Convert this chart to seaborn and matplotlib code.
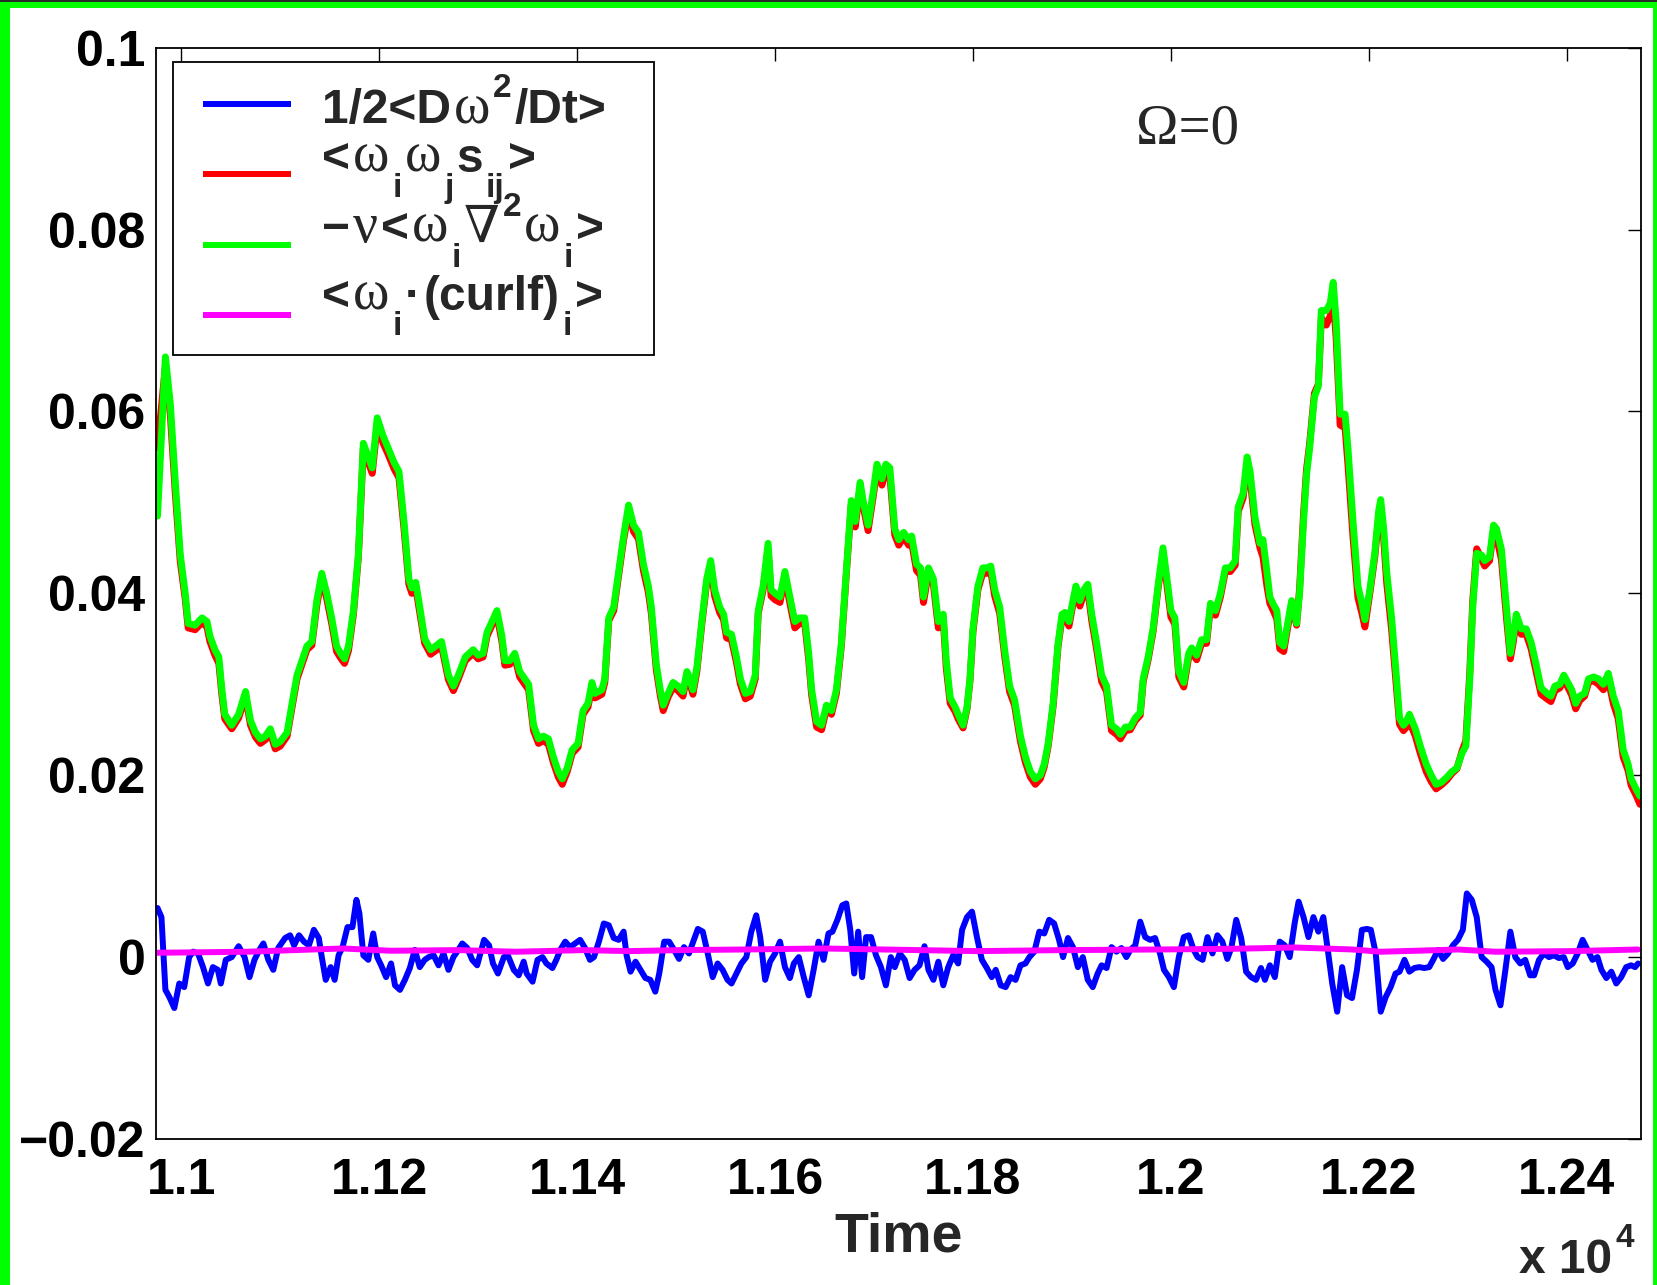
import matplotlib
matplotlib.use('Agg')
import matplotlib.pyplot as plt
import seaborn as sns
from matplotlib.patches import Rectangle
from matplotlib.lines import Line2D

# --- time axis for the production / dissipation curves ---
t_main = [
    10976, 10984, 10989, 10994, 10999, 11004, 11007, 11014, 11021, 11026,
    11029, 11034, 11038, 11041, 11044, 11051, 11058, 11065, 11070, 11075,
    11080, 11085, 11090, 11095, 11100, 11107, 11112, 11117, 11122, 11127,
    11132, 11137, 11142, 11147, 11152, 11157, 11161, 11165, 11169, 11174,
    11179, 11184, 11188, 11193, 11198, 11204, 11209, 11215, 11220, 11225,
    11230, 11233, 11237, 11241, 11246, 11252, 11257, 11263, 11270, 11275,
    11280, 11287, 11295, 11300, 11305, 11309, 11314, 11319, 11324, 11327,
    11332, 11337,
    11342, 11351, 11356, 11361, 11366, 11371, 11376, 11381, 11385, 11390,
    11395, 11401, 11406, 11411, 11415, 11418, 11425, 11428, 11432, 11437,
    11442, 11447, 11452, 11457, 11462, 11467, 11472, 11475, 11480, 11484,
    11487, 11492, 11497, 11502, 11507, 11511, 11514, 11517, 11521, 11526,
    11531, 11535, 11539, 11544, 11548, 11551, 11556, 11561, 11565, 11570,
    11575, 11580, 11583, 11588, 11593, 11596, 11600, 11605, 11610, 11615,
    11620, 11625, 11630, 11634, 11637, 11642, 11647, 11652, 11657, 11662,
    11667, 11672, 11677, 11681, 11686, 11689, 11694, 11699, 11703, 11708,
    11712,
    11716, 11721, 11725, 11730, 11735, 11738, 11743, 11747, 11750, 11755,
    11760, 11765, 11770, 11773, 11777, 11782, 11785, 11790, 11794, 11797,
    11800, 11805, 11810, 11814, 11818, 11822, 11827, 11832, 11837, 11842,
    11848, 11853, 11858, 11863, 11868, 11872, 11876, 11881, 11886, 11890,
    11893, 11897, 11901, 11904, 11908, 11912, 11916, 11920, 11925, 11930,
    11935, 11940, 11945, 11949, 11954, 11959, 11964, 11969, 11972, 11977,
    11982, 11987, 11992, 11996, 12000, 12004, 12008, 12013, 12018, 12021,
    12026, 12031, 12036, 12040, 12045, 12050, 12055, 12060, 12065, 12068,
    12073, 12077, 12080, 12085,
    12090, 12093, 12097, 12100, 12103, 12107, 12110, 12114, 12117, 12122,
    12127, 12130, 12134, 12137, 12140, 12145, 12149, 12152, 12157, 12161,
    12164, 12167, 12171, 12176, 12179, 12184, 12189, 12193, 12196, 12201,
    12206, 12210, 12212, 12215, 12218, 12223, 12228, 12231, 12235, 12238,
    12241, 12247, 12252, 12258, 12263, 12268, 12273, 12279, 12284, 12289,
    12294, 12298, 12302, 12305, 12309, 12314, 12317, 12322, 12326, 12329,
    12334, 12339, 12343, 12346, 12349, 12354, 12359, 12364, 12369, 12374,
    12380, 12384, 12388, 12393, 12397, 12401, 12405, 12409, 12413, 12418,
    12422, 12427, 12432, 12437, 12442, 12447, 12452, 12457, 12462, 12465,
    12470, 12474,
]

# green: -nu <w_i lap w_i>
dissipation = [
    0.0485, 0.0660, 0.0608, 0.0522, 0.0443, 0.0400, 0.0367, 0.0365, 0.0373, 0.0369,
    0.0353, 0.0338, 0.0330, 0.0295, 0.0267, 0.0255, 0.0267, 0.0292, 0.0260, 0.0247,
    0.0240, 0.0243, 0.0251, 0.0234, 0.0237, 0.0247, 0.0279, 0.0310, 0.0326, 0.0342,
    0.0347, 0.0392, 0.0422, 0.0400, 0.0373, 0.0342, 0.0334, 0.0328, 0.0342, 0.0381,
    0.0443, 0.0565, 0.0553, 0.0538, 0.0593, 0.0573, 0.0560, 0.0544, 0.0534, 0.0480,
    0.0416, 0.0406, 0.0412, 0.0385, 0.0350, 0.0338, 0.0342, 0.0347, 0.0310, 0.0298,
    0.0310, 0.0330, 0.0338, 0.0332, 0.0334, 0.0357, 0.0369, 0.0381, 0.0353, 0.0326,
    0.0326, 0.0334,
    0.0314, 0.0300, 0.0255, 0.0240, 0.0243, 0.0240, 0.0220, 0.0204, 0.0196, 0.0208,
    0.0228, 0.0235, 0.0271, 0.0279, 0.0302, 0.0290, 0.0294, 0.0306, 0.0373, 0.0385,
    0.0424, 0.0463, 0.0497, 0.0475, 0.0467, 0.0432, 0.0408, 0.0385, 0.0322, 0.0294,
    0.0277, 0.0290, 0.0302, 0.0298, 0.0292, 0.0314, 0.0306, 0.0294, 0.0318, 0.0369,
    0.0416, 0.0436, 0.0404, 0.0385, 0.0377, 0.0357, 0.0355, 0.0330, 0.0306, 0.0290,
    0.0292, 0.0310, 0.0381, 0.0408, 0.0455, 0.0404, 0.0400, 0.0396, 0.0424, 0.0396,
    0.0369, 0.0373, 0.0373, 0.0334, 0.0294, 0.0259, 0.0255, 0.0277, 0.0271, 0.0294,
    0.0345, 0.0424, 0.0502, 0.0479, 0.0522, 0.0502, 0.0475, 0.0510, 0.0542, 0.0526,
    0.0542,
    0.0538, 0.0471, 0.0459, 0.0467, 0.0459, 0.0463, 0.0432, 0.0428, 0.0396, 0.0428,
    0.0416, 0.0369, 0.0377, 0.0326, 0.0285, 0.0275, 0.0267, 0.0255, 0.0275, 0.0306,
    0.0361, 0.0408, 0.0428, 0.0428, 0.0430, 0.0404, 0.0385, 0.0338, 0.0298, 0.0283,
    0.0243, 0.0220, 0.0204, 0.0196, 0.0200, 0.0212, 0.0235, 0.0279, 0.0345, 0.0377,
    0.0379, 0.0369, 0.0392, 0.0408, 0.0392, 0.0404, 0.0410, 0.0377, 0.0345, 0.0310,
    0.0298, 0.0255, 0.0251, 0.0245, 0.0253, 0.0253, 0.0263, 0.0269, 0.0306, 0.0330,
    0.0361, 0.0408, 0.0450, 0.0416, 0.0381, 0.0373, 0.0314, 0.0302, 0.0334, 0.0340,
    0.0332, 0.0349, 0.0349, 0.0389, 0.0381, 0.0400, 0.0428, 0.0428, 0.0436, 0.0495,
    0.0510, 0.0550, 0.0534, 0.0483,
    0.0455, 0.0459, 0.0424, 0.0396, 0.0389, 0.0381, 0.0346, 0.0342, 0.0361, 0.0392,
    0.0367, 0.0400, 0.0479, 0.0530, 0.0558, 0.0616, 0.0628, 0.0711, 0.0711, 0.0719,
    0.0742, 0.0699, 0.0597, 0.0597, 0.0558, 0.0479, 0.0408, 0.0389, 0.0371, 0.0404,
    0.0444, 0.0491, 0.0503, 0.0471, 0.0424, 0.0373, 0.0306, 0.0263, 0.0255, 0.0259,
    0.0267, 0.0251, 0.0232, 0.0212, 0.0200, 0.0190, 0.0192, 0.0198, 0.0204, 0.0208,
    0.0224, 0.0232, 0.0306, 0.0385, 0.0444, 0.0442, 0.0436, 0.0440, 0.0475, 0.0471,
    0.0448, 0.0385, 0.0334, 0.0353, 0.0377, 0.0361, 0.0361, 0.0346, 0.0322, 0.0296,
    0.0290, 0.0287, 0.0298, 0.0300, 0.0310, 0.0302, 0.0294, 0.0279, 0.0287, 0.0290,
    0.0306, 0.0308, 0.0306, 0.0300, 0.0312, 0.0287, 0.0271, 0.0228, 0.0212, 0.0196,
    0.0185, 0.0177,
]

# red: <w_i w_j s_ij>
stretching = [
    0.0560, 0.0650, 0.0596, 0.0510, 0.0435, 0.0394, 0.0362, 0.0360, 0.0368, 0.0363,
    0.0347, 0.0332, 0.0323, 0.0289, 0.0262, 0.0251, 0.0263, 0.0287, 0.0255, 0.0242,
    0.0235, 0.0239, 0.0246, 0.0229, 0.0232, 0.0243, 0.0275, 0.0306, 0.0322, 0.0338,
    0.0343, 0.0387, 0.0417, 0.0394, 0.0367, 0.0336, 0.0329, 0.0323, 0.0337, 0.0377,
    0.0440, 0.0560, 0.0547, 0.0532, 0.0585, 0.0565, 0.0553, 0.0537, 0.0527, 0.0472,
    0.0410, 0.0400, 0.0406, 0.0379, 0.0345, 0.0333, 0.0337, 0.0342, 0.0305, 0.0293,
    0.0306, 0.0326, 0.0334, 0.0328, 0.0330, 0.0353, 0.0365, 0.0376, 0.0347, 0.0321,
    0.0322, 0.0330,
    0.0308, 0.0294, 0.0249, 0.0235, 0.0238, 0.0234, 0.0214, 0.0198, 0.0190, 0.0204,
    0.0224, 0.0231, 0.0267, 0.0275, 0.0297, 0.0285, 0.0289, 0.0302, 0.0370, 0.0381,
    0.0420, 0.0459, 0.0490, 0.0468, 0.0460, 0.0425, 0.0401, 0.0378, 0.0316, 0.0288,
    0.0271, 0.0286, 0.0297, 0.0293, 0.0287, 0.0310, 0.0301, 0.0289, 0.0314, 0.0366,
    0.0412, 0.0430, 0.0397, 0.0379, 0.0371, 0.0351, 0.0349, 0.0324, 0.0300, 0.0284,
    0.0287, 0.0306, 0.0378, 0.0404, 0.0448, 0.0397, 0.0393, 0.0390, 0.0418, 0.0389,
    0.0362, 0.0367, 0.0367, 0.0327, 0.0288, 0.0253, 0.0250, 0.0273, 0.0267, 0.0290,
    0.0342, 0.0421, 0.0497, 0.0473, 0.0517, 0.0496, 0.0469, 0.0505, 0.0536, 0.0519,
    0.0535,
    0.0530, 0.0464, 0.0453, 0.0462, 0.0453, 0.0456, 0.0425, 0.0420, 0.0390, 0.0423,
    0.0410, 0.0362, 0.0371, 0.0318, 0.0279, 0.0270, 0.0262, 0.0252, 0.0273, 0.0304,
    0.0358, 0.0404, 0.0423, 0.0422, 0.0424, 0.0397, 0.0378, 0.0331, 0.0292, 0.0277,
    0.0237, 0.0214, 0.0198, 0.0190, 0.0196, 0.0209, 0.0232, 0.0276, 0.0342, 0.0373,
    0.0374, 0.0364, 0.0388, 0.0403, 0.0386, 0.0399, 0.0404, 0.0370, 0.0338, 0.0303,
    0.0292, 0.0249, 0.0245, 0.0240, 0.0249, 0.0250, 0.0260, 0.0266, 0.0303, 0.0327,
    0.0358, 0.0405, 0.0444, 0.0409, 0.0374, 0.0366, 0.0308, 0.0297, 0.0330, 0.0335,
    0.0327, 0.0345, 0.0345, 0.0385, 0.0376, 0.0396, 0.0424, 0.0424, 0.0431, 0.0490,
    0.0505, 0.0543, 0.0526, 0.0475,
    0.0450, 0.0440, 0.0408, 0.0389, 0.0382, 0.0372, 0.0339, 0.0336, 0.0356, 0.0388,
    0.0365, 0.0405, 0.0487, 0.0536, 0.0563, 0.0620, 0.0630, 0.0703, 0.0695, 0.0705,
    0.0728, 0.0680, 0.0585, 0.0582, 0.0540, 0.0462, 0.0395, 0.0378, 0.0363, 0.0400,
    0.0440, 0.0485, 0.0492, 0.0460, 0.0412, 0.0360, 0.0295, 0.0256, 0.0249, 0.0253,
    0.0259, 0.0243, 0.0224, 0.0204, 0.0193, 0.0185, 0.0189, 0.0195, 0.0202, 0.0207,
    0.0226, 0.0238, 0.0313, 0.0392, 0.0449, 0.0437, 0.0430, 0.0436, 0.0469, 0.0462,
    0.0437, 0.0374, 0.0328, 0.0347, 0.0371, 0.0355, 0.0355, 0.0339, 0.0314, 0.0289,
    0.0284, 0.0281, 0.0293, 0.0296, 0.0305, 0.0297, 0.0288, 0.0273, 0.0282, 0.0287,
    0.0302, 0.0304, 0.0300, 0.0294, 0.0305, 0.0279, 0.0262, 0.0220, 0.0205, 0.0189,
    0.0178, 0.0168,
]

# blue: 1/2 <D w^2 / Dt>
t_blue = [
    10976, 10980, 10984, 10988, 10993, 10998, 11003, 11008, 11012, 11017,
    11022, 11027, 11032, 11037, 11040, 11045, 11051, 11058, 11064, 11069,
    11074, 11079, 11083, 11088, 11093, 11098, 11105, 11110, 11114, 11119,
    11124, 11129, 11134, 11139, 11142, 11146, 11151, 11155, 11159, 11163,
    11168, 11173, 11177, 11180, 11184, 11189, 11194, 11198, 11202, 11207,
    11212, 11216, 11221, 11226, 11231, 11236, 11241, 11246, 11250, 11255,
    11260, 11265, 11270, 11275, 11280, 11284, 11289, 11294, 11299, 11306,
    11311, 11315, 11320, 11326, 11330, 11336, 11341, 11346, 11349, 11355,
    11360, 11365, 11369, 11375, 11379, 11383, 11388, 11393, 11398, 11403,
    11408, 11413, 11417, 11422, 11427, 11432, 11437, 11442, 11447, 11450,
    11454, 11459, 11464, 11469, 11474, 11479, 11483, 11488, 11493, 11498,
    11503, 11508, 11513, 11518, 11522, 11527, 11532, 11537, 11542, 11547,
    11552, 11556, 11561, 11566, 11571, 11576, 11581, 11585, 11590, 11595,
    11600, 11605, 11610, 11615, 11619, 11624, 11629, 11634, 11639, 11644,
    11649, 11654, 11658, 11663, 11668, 11672, 11676, 11680, 11684, 11688,
    11692, 11697, 11702, 11707, 11712, 11717, 11721, 11726, 11731, 11736,
    11741, 11746, 11751, 11755, 11760, 11765, 11770, 11775, 11780, 11785,
    11789, 11794, 11799, 11804, 11809, 11814, 11819, 11823, 11828, 11833,
    11838, 11843, 11848, 11853, 11857, 11862, 11867, 11872, 11877, 11882,
    11887, 11891, 11896, 11901, 11906, 11911, 11916, 11921, 11926, 11930,
    11935, 11940, 11945, 11950, 11955, 11959, 11964, 11969, 11974, 11979,
    11984, 11989, 11993, 11998, 12003, 12008, 12013, 12018, 12023, 12027,
    12032, 12037, 12042, 12047, 12052, 12057, 12061, 12066, 12071, 12076,
    12081, 12086, 12091, 12095, 12100, 12105, 12110, 12115, 12120, 12125,
    12129, 12134, 12139, 12144, 12149, 12154, 12159, 12163, 12168, 12173,
    12178, 12183, 12188, 12193, 12198, 12202, 12207, 12212, 12217, 12222,
    12227, 12231, 12236, 12241, 12246, 12251, 12256, 12261, 12265, 12270,
    12275, 12280, 12285, 12290, 12295, 12299, 12304, 12309, 12314, 12319,
    12324, 12328, 12333, 12338, 12343, 12348, 12353, 12358, 12363, 12367,
    12372, 12377, 12382, 12387, 12392, 12397, 12401, 12406, 12411, 12416,
    12421, 12426, 12431, 12435, 12440, 12445, 12450, 12455, 12460, 12465,
    12469, 12472,
]
enstrophy_rate = [
    0.0054, 0.0044, -0.0036, -0.0044, -0.0056, -0.0029, -0.0033, 0.0000, 0.0006, 0.0004,
    -0.0011, -0.0029, -0.0011, -0.0014, -0.0029, -0.0003, 0.0000, 0.0012, 0.0000, -0.0022,
    -0.0003, 0.0008, 0.0015, -0.0003, -0.0014, 0.0010, 0.0021, 0.0024, 0.0013, 0.0024,
    0.0017, 0.0013, 0.0030, 0.0021, 0.0000, -0.0025, -0.0011, -0.0025, 0.0002, 0.0011,
    0.0033, 0.0033, 0.0063, 0.0048, 0.0002, -0.0003, 0.0026, 0.0000, -0.0009, -0.0022,
    -0.0007, -0.0031, -0.0036, -0.0025, -0.0012, 0.0008, -0.0011, -0.0003, 0.0000, 0.0002,
    -0.0009, 0.0004, -0.0014, 0.0000, 0.0008, 0.0015, 0.0010, -0.0003, -0.0009, 0.0019,
    0.0013, -0.0007, -0.0018, 0.0000, 0.0002, -0.0014, -0.0020, -0.0005, -0.0018, -0.0027,
    -0.0003, 0.0000, -0.0007, -0.0012, -0.0003, 0.0008, 0.0017, 0.0011, 0.0015, 0.0019,
    0.0010, -0.0003, 0.0000, 0.0017, 0.0037, 0.0035, 0.0021, 0.0019, 0.0028, 0.0002,
    -0.0016, -0.0005, -0.0014, -0.0023, -0.0025, -0.0038, -0.0018, 0.0017, 0.0017, 0.0008,
    -0.0002, 0.0011, 0.0004, 0.0019, 0.0031, 0.0028, 0.0004, -0.0022, -0.0007, -0.0014,
    -0.0025, -0.0029, -0.0018, -0.0007, 0.0000, 0.0028, 0.0046, 0.0022, -0.0025, -0.0005,
    0.0004, 0.0017, -0.0011, -0.0023, -0.0007, 0.0000, -0.0022, -0.0042, -0.0014, 0.0017,
    -0.0003, 0.0026, 0.0028, 0.0041, 0.0057, 0.0059, 0.0030, -0.0018, 0.0028, -0.0022,
    0.0022, 0.0022, 0.0002, -0.0011, -0.0031, 0.0000, -0.0011, 0.0004, -0.0003, -0.0023,
    -0.0014, -0.0009, 0.0012, -0.0014, -0.0025, -0.0005, -0.0031, -0.0011, 0.0002, -0.0007,
    0.0030, 0.0044, 0.0050, 0.0022, -0.0003, -0.0012, -0.0022, -0.0014, -0.0031, -0.0033,
    -0.0022, -0.0025, -0.0009, -0.0007, 0.0000, 0.0006, 0.0028, 0.0026, 0.0041, 0.0037,
    0.0019, 0.0000, 0.0021, 0.0011, -0.0011, 0.0000, -0.0025, -0.0033, -0.0018, -0.0009,
    -0.0012, 0.0011, 0.0006, 0.0010, 0.0000, 0.0008, 0.0013, 0.0039, 0.0022, 0.0019,
    0.0021, 0.0004, -0.0014, -0.0022, -0.0033, 0.0000, 0.0022, 0.0024, 0.0008, 0.0000,
    -0.0003, 0.0022, 0.0004, 0.0024, 0.0017, -0.0002, 0.0010, 0.0041, 0.0021, -0.0016,
    -0.0022, -0.0025, -0.0012, -0.0025, -0.0009, -0.0022, 0.0017, 0.0013, 0.0000, 0.0037,
    0.0061, 0.0044, 0.0022, 0.0044, 0.0028, 0.0044, 0.0004, -0.0029, -0.0060, -0.0011,
    -0.0042, -0.0045, -0.0014, 0.0030, 0.0031, 0.0030, 0.0004, -0.0060, -0.0044, -0.0033,
    -0.0018, -0.0016, -0.0003, -0.0016, -0.0012, -0.0011, -0.0012, -0.0011, -0.0003, 0.0008,
    -0.0002, 0.0004, 0.0013, 0.0019, 0.0030, 0.0070, 0.0063, 0.0044, 0.0000, -0.0005,
    -0.0011, -0.0036, -0.0053, -0.0014, 0.0028, 0.0000, -0.0007, -0.0003, -0.0020, -0.0020,
    -0.0003, 0.0004, 0.0000, 0.0002, -0.0001, 0.0000, -0.0011, -0.0007, 0.0004, 0.0019,
    0.0008, -0.0003, 0.0000, -0.0014, -0.0023, -0.0016, -0.0029, -0.0022, -0.0011, -0.0009,
    -0.0011, -0.0007,
]

# magenta: <w_i . (curl f)_i>
t_force = [10976, 11066, 11163, 11212, 11280, 11338, 11406, 11454, 11503, 11571,
           11649, 11746, 11804, 11891, 11989, 12066, 12125, 12183, 12212, 12270,
           12290, 12328, 12406, 12472]
forcing = [0.00048, 0.00059, 0.00095, 0.00070, 0.00077, 0.00059, 0.00077, 0.00066,
           0.00077, 0.00084, 0.00095, 0.00077, 0.00066, 0.00077, 0.00084, 0.00092,
           0.00106, 0.00084, 0.00059, 0.00077, 0.00084, 0.00059, 0.00066, 0.00084]

x_ticks = [11000, 11200, 11400, 11600, 11800, 12000, 12200, 12400]
x_tick_labels = ['1.1', '1.12', '1.14', '1.16', '1.18', '1.2', '1.22', '1.24']
y_ticks = [-0.02, 0, 0.02, 0.04, 0.06, 0.08, 0.1]
y_tick_labels = ['\u22120.02', '0', '0.02', '0.04', '0.06', '0.08', '0.1']

# legend labels as runs of text: n = bold sans, g = greek (serif), sub / sup
legend_pieces = [
    [('1/2<D', 'n'), ('\u03c9', 'g'), ('2', 'sup'), ('/Dt>', 'n')],
    [('<', 'n'), ('\u03c9', 'g'), ('i', 'sub'), ('\u03c9', 'g'), ('j', 'sub'),
     ('s', 'n'), ('ij', 'sub'), ('>', 'n')],
    [('\u2212', 'n'), ('\u03bd', 'g'), ('<', 'n'), ('\u03c9', 'g'), ('i', 'sub'),
     ('\u2207', 'nabla'), ('2', 'sup'), ('\u03c9', 'g'), ('i', 'sub'), ('>', 'n')],
    [('<', 'n'), ('\u03c9', 'g'), ('i', 'sub'), ('\u00b7', 'n'), ('(curlf)', 'n'),
     ('i', 'sub'), ('>', 'n')],
]
legend_colors = ['#0000ff', '#ff0000', '#00ff00', '#ff00ff']

# --- style ---
sns.set_style('white')
plt.rcParams['font.family'] = ['Liberation Sans', 'DejaVu Sans']
plt.rcParams['font.weight'] = 'bold'
plt.rcParams['axes.labelweight'] = 'bold'

W, H = 1658, 1285
fig = plt.figure(figsize=(W / 100, H / 100), dpi=100)
fig.patch.set_facecolor('white')
ax = fig.add_axes([156.5 / W, 1 - 1139 / H, (1641 - 156.5) / W, (1139 - 47.7) / H])

sns.lineplot(x=t_main, y=stretching, ax=ax, color='#ff0000', linewidth=5.0,
             estimator=None, sort=False)
sns.lineplot(x=t_main, y=dissipation, ax=ax, color='#00ff00', linewidth=5.0,
             estimator=None, sort=False)
sns.lineplot(x=t_blue, y=enstrophy_rate, ax=ax, color='#0000ff', linewidth=4.3,
             estimator=None, sort=False)
sns.lineplot(x=t_force, y=forcing, ax=ax, color='#ff00ff', linewidth=4.3,
             estimator=None, sort=False)

ax.set_xlim(10975, 12475)
ax.set_ylim(-0.02, 0.1)
ax.set_xticks(x_ticks)
ax.set_xticklabels(x_tick_labels)
ax.set_yticks(y_ticks)
ax.set_yticklabels(y_tick_labels)
ax.tick_params(direction='in', length=9.5, width=1.0, top=True, right=True,
               labelsize=36, colors='black')
ax.tick_params(axis='x', pad=14)
ax.tick_params(axis='y', pad=8)
for sp in ax.spines.values():
    sp.set_visible(True)
    sp.set_color('black')
    sp.set_linewidth(1.3)
ax.set_xlabel('Time', fontsize=40, fontweight='bold', labelpad=5)
ax.set_ylabel('')

renderer = fig.canvas.get_renderer()
piece_style = {
    'n': dict(fontsize=34.5, dy=0),
    'g': dict(fontsize=40, dy=0, family=['Liberation Serif', 'DejaVu Serif'],
              fontweight='normal'),
    'nabla': dict(fontsize=37, dy=0, family=['DejaVu Serif'], fontweight='normal'),
    'sub': dict(fontsize=24, dy=25),
    'sup': dict(fontsize=24, dy=-26),
}


def write_runs(x_px, base_px, pieces, gap=3):
    x = x_px
    for txt, kind in pieces:
        st = dict(piece_style[kind])
        dy = st.pop('dy')
        t = fig.text(x / W, 1 - (base_px + dy) / H, txt, ha='left', va='baseline',
                     zorder=12, **st)
        x += t.get_window_extent(renderer).width + gap


# exponent of the time axis
write_runs(1519, 1273, [('x 10', 'n'), ('4', 'sup')], gap=3)

# rotation annotation
fig.text(1136 / W, 1 - 144 / H, '\u03a9=0', family='Liberation Serif',
         fontweight='normal', fontsize=41, ha='left', va='baseline')

# legend box drawn like the original
fig.add_artist(Rectangle((173 / W, 1 - 355 / H), (654 - 173) / W, (355 - 62) / H,
                         transform=fig.transFigure, facecolor='white',
                         edgecolor='black', linewidth=1.3, zorder=10))
line_y = [104, 174, 245, 315]
text_y = [123, 172, 242, 310]
for pieces, col, ly, ty in zip(legend_pieces, legend_colors, line_y, text_y):
    fig.add_artist(Line2D([203 / W, 291 / W], [1 - ly / H, 1 - ly / H],
                          transform=fig.transFigure, color=col, linewidth=4.3,
                          solid_capstyle='butt', zorder=11))
    write_runs(322, ty, pieces)

# green frame around the figure
frame = '#00ff00'
fig.add_artist(Rectangle((0, 1 - 8 / H), 1, 8 / H, transform=fig.transFigure,
                         facecolor=frame, edgecolor='none', zorder=20))
fig.add_artist(Rectangle((0, 1 - 1.5 / H), 1, 1.5 / H, transform=fig.transFigure,
                         facecolor='#2a2a2a', edgecolor='none', zorder=21))
fig.add_artist(Rectangle((0, 0), 10 / W, 1, transform=fig.transFigure,
                         facecolor=frame, edgecolor='none', zorder=20))
fig.add_artist(Rectangle((1 - 5 / W, 0), 5 / W, 1, transform=fig.transFigure,
                         facecolor=frame, edgecolor='none', zorder=20))

fig.savefig('out.png', dpi=100)
